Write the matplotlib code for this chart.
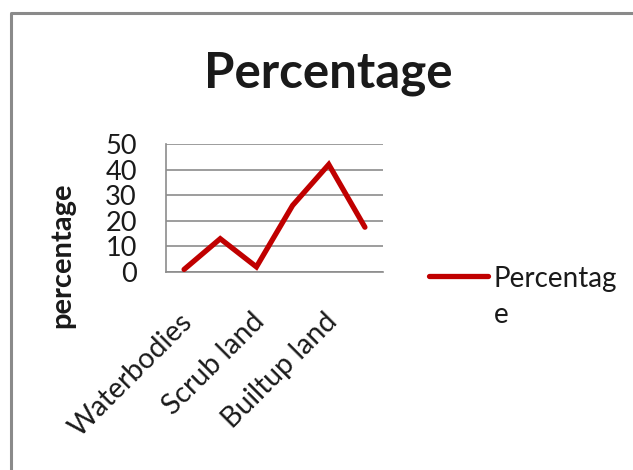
import matplotlib
matplotlib.use("Agg")
import matplotlib.pyplot as plt
from matplotlib.lines import Line2D
from matplotlib.transforms import ScaledTranslation

# Land-use categories and their share (%)
categories = ["Waterbodies", "Agriculture", "Scrub land", "Fallow land", "Builtup land", "Forest"]
percentages = [1, 13, 2, 26, 42, 17.5]
shown_labels = ["Waterbodies", "", "Scrub land", "", "Builtup land", ""]
y_ticks = [0, 10, 20, 30, 40, 50]
series_name = "Percentage"
chart_title = "Percentage"
y_title = "percentage"

W, H = 633, 470
DPI = 100
LINE_RED = "#C00000"
GRID_GRAY = "#8C8C8C"
TEXT = "#1a1a1a"
FONT = ["Lato", "DejaVu Sans"]

plt.rcParams["font.family"] = FONT

fig = plt.figure(figsize=(W / DPI, H / DPI), dpi=DPI)
fig.patch.set_facecolor("white")

def px(x, y):
    """pixel (from top-left) -> figure fraction"""
    return x / W, 1 - y / H

# plot area
left, right, top, bottom = 166, 383, 144, 272
ax = fig.add_axes([left / W, 1 - bottom / H, (right - left) / W, (bottom - top) / H])

xs = [i + 0.5 for i in range(len(categories))]
ax.plot(xs, percentages, color=LINE_RED, lw=3.8, solid_capstyle="round",
        solid_joinstyle="miter", zorder=3, clip_on=False)

ax.set_xlim(0, len(categories))
ax.set_ylim(y_ticks[0], y_ticks[-1])
ax.set_yticks(y_ticks)
ax.set_yticklabels([str(v) for v in y_ticks], fontsize=19.5, color=TEXT)
ax.tick_params(axis="y", length=0, pad=21)
ax.grid(axis="y", color=GRID_GRAY, lw=1.2)
ax.set_axisbelow(True)

ax.set_xticks(xs)
ax.set_xticklabels(shown_labels, fontsize=20.5, color=TEXT, rotation=45,
                   ha="right", va="center", rotation_mode="anchor")
ax.tick_params(axis="x", length=0, pad=33)
# nudge the category labels a little to the right
shift = ScaledTranslation(4 / DPI, 0, fig.dpi_scale_trans)
for lbl in ax.get_xticklabels():
    lbl.set_transform(lbl.get_transform() + shift)

for side in ("right", "top"):
    ax.spines[side].set_visible(False)
for side in ("left", "bottom"):
    ax.spines[side].set_color(GRID_GRAY)
    ax.spines[side].set_linewidth(1.2)

# axis title
fig.text(*px(62, 255), y_title, rotation=90, ha="center", va="center",
         fontsize=21, fontweight="bold", color=TEXT)

# chart title
fig.text(*px(328, 73), chart_title, ha="center", va="center",
         fontsize=35.5, fontweight="bold", color=TEXT)

# legend key and wrapped label
x0, y0 = px(429, 276)
x1, _ = px(488, 276)
fig.add_artist(Line2D([x0, x1], [y0, y0], transform=fig.transFigure,
                      color=LINE_RED, lw=3.8, solid_capstyle="round"))
fig.text(*px(494, 287), series_name[:9], ha="left", va="baseline",
         fontsize=20, color=TEXT)
fig.text(*px(494, 323), series_name[9:], ha="left", va="baseline",
         fontsize=20, color=TEXT)

# chart frame (continues past the right and bottom edges)
fx, fy = px(10.5, 13)
fig.add_artist(Line2D([fx, fx, 1.02], [-0.02, fy, fy], transform=fig.transFigure,
                      color="#8A8A8A", lw=2.2))

fig.savefig("out.png", dpi=DPI, facecolor="white")
